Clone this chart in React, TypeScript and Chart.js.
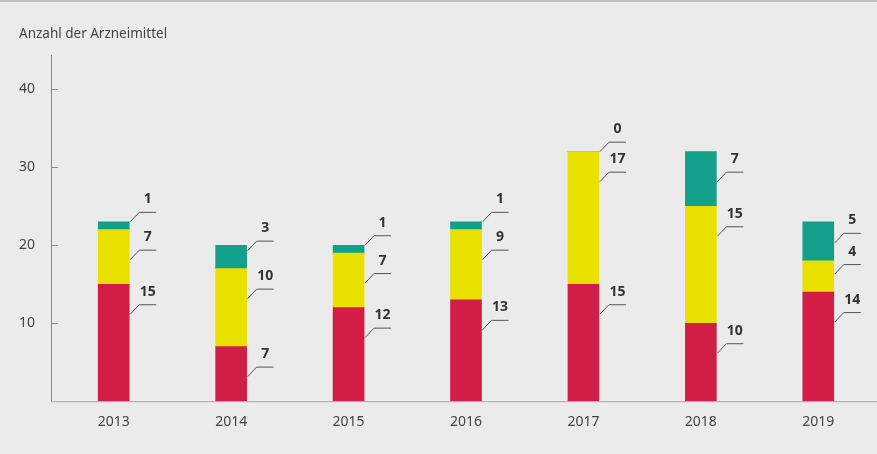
import React, { useEffect, useRef } from "react";
import { Chart, registerables } from "chart.js";

Chart.register(...registerables);

const years = ["2013", "2014", "2015", "2016", "2017", "2018", "2019"];
const redValues = [15, 7, 12, 13, 15, 10, 14];
const yellowValues = [7, 10, 7, 9, 17, 15, 4];
const tealValues = [1, 3, 1, 1, 0, 7, 5];
const yTickValues = [10, 20, 30, 40];
const axisTitle = "Anzahl der Arzneimittel";

const FONT = "'Noto Sans', 'Open Sans', sans-serif";

const decorPlugin = {
  id: "decor",
  beforeDraw(chart: any) {
    const { ctx, width } = chart;
    ctx.save();
    ctx.fillStyle = "#ebebeb";
    ctx.fillRect(0, 0, chart.width, chart.height);
    ctx.fillStyle = "#c9bdb3";
    ctx.fillRect(0, 0, width, 2);
    ctx.fillStyle = "#444";
    ctx.font = `13.5px ${FONT}`;
    ctx.textBaseline = "middle";
    ctx.textAlign = "left";
    ctx.fillText(axisTitle, 19, 34);
    ctx.restore();
  },
  afterDraw(chart: any) {
    const { ctx, chartArea, width } = chart;
    const y = chart.scales.y;
    const axisX = chartArea.left - 4;
    ctx.save();
    ctx.strokeStyle = "#8a8a8a";
    ctx.lineWidth = 1;
    ctx.beginPath();
    ctx.moveTo(axisX + 0.5, chartArea.top);
    ctx.lineTo(axisX + 0.5, chartArea.bottom);
    ctx.stroke();
    ctx.strokeStyle = "#a8a8a8";
    ctx.beginPath();
    ctx.moveTo(axisX, chartArea.bottom + 0.5);
    ctx.lineTo(width, chartArea.bottom + 0.5);
    ctx.stroke();
    ctx.strokeStyle = "#8a8a8a";
    for (const v of yTickValues) {
      const py = Math.round(y.getPixelForValue(v)) + 0.5;
      ctx.beginPath();
      ctx.moveTo(axisX, py);
      ctx.lineTo(axisX + 7, py);
      ctx.stroke();
    }
    ctx.restore();
  },
};

const leaderPlugin = {
  id: "leaders",
  afterDatasetsDraw(chart: any) {
    const { ctx } = chart;
    ctx.save();
    ctx.strokeStyle = "#555";
    ctx.lineWidth = 1;
    ctx.fillStyle = "#333";
    ctx.font = `bold 14px ${FONT}`;
    ctx.textAlign = "center";
    ctx.textBaseline = "alphabetic";
    chart.data.datasets.forEach((ds: any, di: number) => {
      const meta = chart.getDatasetMeta(di);
      meta.data.forEach((bar: any, i: number) => {
        const top = Math.min(bar.y, bar.base);
        const h = Math.abs(bar.base - bar.y);
        const right = bar.x + bar.width / 2;
        const d = Math.min(30, Math.max(0, h - 18));
        const y0 = top + d;
        const y1 = y0 - 10;
        ctx.beginPath();
        ctx.moveTo(right + 1, y0);
        ctx.lineTo(right + 10, y1 + 0.5);
        ctx.lineTo(right + 27, y1 + 0.5);
        ctx.stroke();
        ctx.fillText(String(ds.data[i]), right + 18.5, y1 - 8.5);
      });
    });
    ctx.restore();
  },
};

export default function App() {
  const canvasRef = useRef<HTMLCanvasElement | null>(null);

  useEffect(() => {
    if (!canvasRef.current) return;
    const chart = new Chart(canvasRef.current, {
      type: "bar",
      data: {
        labels: years,
        datasets: [
          { label: "rot", data: redValues, backgroundColor: "#d21e46", barThickness: 31 },
          { label: "gelb", data: yellowValues, backgroundColor: "#e9e000", barThickness: 31 },
          { label: "grün", data: tealValues, backgroundColor: "#12a08a", barThickness: 31 },
        ],
      },
      options: {
        responsive: false,
        animation: false,
        devicePixelRatio: 1,
        layout: { padding: { left: 0, right: -3, top: 55, bottom: 12 } },
        plugins: { legend: { display: false }, title: { display: false }, tooltip: { enabled: false } },
        scales: {
          x: {
            stacked: true,
            grid: { display: false, drawTicks: false },
            border: { display: false },
            ticks: { color: "#444", font: { family: FONT, size: 14 }, padding: 12, maxRotation: 0 },
          },
          y: {
            stacked: true,
            min: 0,
            max: 44.4,
            grid: { display: false, drawTicks: false },
            border: { display: false },
            afterFit: (scale: any) => {
              scale.width = 55;
            },
            afterBuildTicks: (scale: any) => {
              scale.ticks = yTickValues.map((v) => ({ value: v }));
            },
            ticks: { color: "#444", font: { family: FONT, size: 14 }, padding: 20 },
          },
        },
      },
      plugins: [decorPlugin, leaderPlugin],
    });
    return () => chart.destroy();
  }, []);

  return (
    <div style={{ position: "fixed", left: 0, top: 0, width: 877, height: 454, background: "#ebebeb" }}>
      <canvas ref={canvasRef} width={877} height={454} style={{ display: "block" }} />
    </div>
  );
}
